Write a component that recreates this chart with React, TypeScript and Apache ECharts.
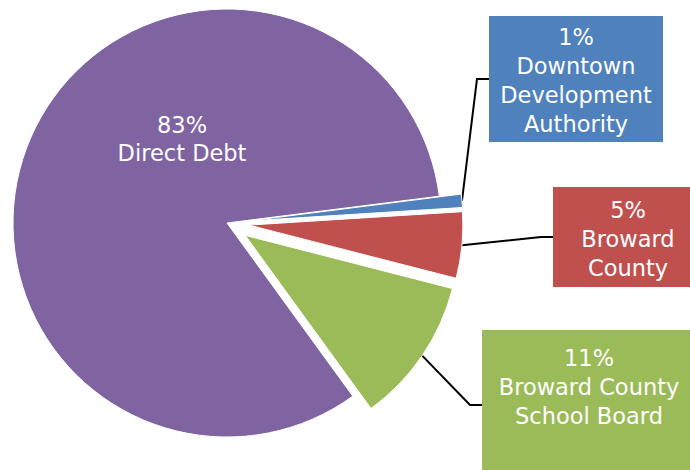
import { useEffect, useRef } from 'react';
import * as echarts from 'echarts';

// ---- data ----
const categories = ['Direct Debt', 'Downtown\nDevelopment\nAuthority', 'Broward\nCounty', 'Broward County\nSchool Board'];
const values = [83, 1, 5, 11];
const exploded = [false, true, true, true];

// ---- styles / layout (not data) ----
const palette = ['#8064A2', '#4F81BD', '#C0504D', '#9BBB59'];
const labelBoxes: Array<null | { left: number; top: number; width: number; pad: number[] }> = [
  null,
  { left: 489, top: 16, width: 174, pad: [6, 0, 4, 0] },
  { left: 553, top: 187, width: 150, pad: [8, 0, 5, 0] },
  { left: 482, top: 330, width: 214, pad: [13, 0, 50, 0] },
];
const innerLabelPos = { x: 182, y: 139 };
const CENTER = [227, 223];
const RADIUS = 214;
const EXPLODE = 22;
const START = -54;

export default function App() {
  const ref = useRef<HTMLDivElement>(null);
  useEffect(() => {
    if (!ref.current) return;
    const chart = echarts.init(ref.current, null, { renderer: 'svg' });
    const pieData = values.map((v, i) => ({
      value: v,
      name: categories[i],
      selected: exploded[i],
      itemStyle: { color: palette[i] },
    }));
    const labelData = values.map((v, i) => {
      const box = labelBoxes[i];
      return {
        value: v,
        name: categories[i],
        label: box
          ? {
              position: 'outside',
              backgroundColor: palette[i],
              width: box.width,
              padding: box.pad,
            }
          : { position: 'inside', lineHeight: 28.5 },
        labelLine: { show: !!box },
      };
    });
    chart.setOption({
      animation: false,
      backgroundColor: '#ffffff',
      series: [
        {
          type: 'pie',
          center: CENTER,
          radius: RADIUS,
          startAngle: START,
          clockwise: true,
          selectedMode: 'multiple',
          selectedOffset: EXPLODE,
          avoidLabelOverlap: false,
          emphasis: { disabled: true },
          itemStyle: { borderColor: '#ffffff', borderWidth: 1 },
          select: { itemStyle: { borderColor: '#ffffff', borderWidth: 1 } },
          label: { show: false },
          labelLine: { show: false },
          data: pieData,
        },
        {
          type: 'pie',
          center: CENTER,
          radius: RADIUS + EXPLODE,
          startAngle: START,
          clockwise: true,
          silent: true,
          selectedMode: false,
          avoidLabelOverlap: false,
          emphasis: { disabled: true },
          itemStyle: { color: 'rgba(0,0,0,0)', borderWidth: 0 },
          label: {
            show: true,
            color: '#ffffff',
            fontFamily: 'DejaVu Sans',
            fontSize: 22.5,
            lineHeight: 29,
            formatter: (p: any) => Math.round(p.percent) + '%\n' + p.name,
          },
          labelLine: {
            show: true,
            length: 10,
            length2: 12,
            lineStyle: { color: '#000000', width: 2 },
          },
          labelLayout: (params: any) => {
            const b = labelBoxes[params.dataIndex];
            if (!b) return { x: innerLabelPos.x, y: innerLabelPos.y, align: 'center', verticalAlign: 'middle' };
            return { x: b.left + b.width / 2, y: b.top, align: 'center', verticalAlign: 'top' };
          },
          data: labelData,
        },
      ],
    });
    return () => chart.dispose();
  }, []);
  return (
    <div
      ref={ref}
      style={{ position: 'absolute', left: 0, top: 0, width: 690, height: 470, overflow: 'hidden' }}
    />
  );
}
